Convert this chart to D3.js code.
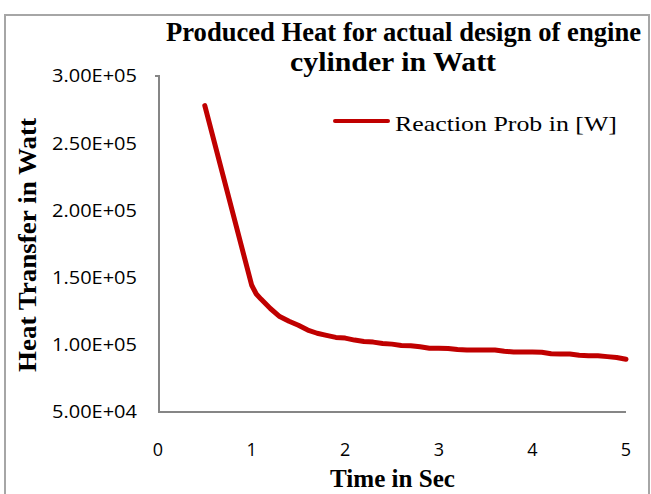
<!DOCTYPE html>
<html>
<head>
<meta charset="utf-8">
<script src="https://cdn.jsdelivr.net/npm/d3@7"></script>
<style>
  body { margin: 0; background: #fff; }
  svg { display: block; }
  .serif { font-family: "Liberation Serif", "Times New Roman", Times, serif; }
  .sans { font-family: "Open Sans", "Liberation Sans", sans-serif; }
</style>
</head>
<body>
<svg id="chart"></svg>
<script>
  // time in sec and produced heat in W
  var times = [0.5, 1.0, 1.05, 1.1, 1.2, 1.3, 1.4, 1.5, 1.6, 1.7, 1.8, 1.9, 2.0,
    2.1, 2.2, 2.3, 2.4, 2.5, 2.6, 2.7, 2.8, 2.9, 3.0, 3.1, 3.2, 3.3, 3.4, 3.5,
    3.6, 3.7, 3.8, 3.9, 4.0, 4.1, 4.2, 4.3, 4.4, 4.5, 4.6, 4.7, 4.8, 4.9, 5.0];
  var heat = [278000, 144500, 137800, 134000, 127000, 121000, 117500, 114500,
    111000, 108600, 107000, 105500, 105000, 103500, 102500, 102000, 101000,
    100500, 99500, 99300, 98500, 97500, 97400, 97300, 96500, 96100, 96100,
    96100, 96100, 95200, 94600, 94600, 94600, 94400, 93300, 93200, 93200,
    92300, 91900, 91800, 91200, 90500, 89200];
  var xTicks = [0, 1, 2, 3, 4, 5];
  var yTicks = [50000, 100000, 150000, 200000, 250000, 300000];
  var seriesName = "Reaction Prob in  [W]";

  var width = 651,
    height = 494;

  var svg = d3.select("#chart")
    .attr("width", width)
    .attr("height", height);

  // outer frame (chart box, bottom edge falls outside the shot)
  svg.append("path")
    .attr("d", "M5,500 L5,15 L649,15 L649,500")
    .attr("stroke", "#a6a6a6")
    .attr("fill", "none")
    .attr("stroke-width", "2");

  var x = d3.scaleLinear().domain([0, 5]).range([158, 626]);
  var y = d3.scaleLinear().domain([50000, 300000]).range([412, 76]);

  // axes
  svg.append("path")
    .attr("d", "M155," + y(300000) + " L159," + y(300000) + " L159," + y(50000) + " L" + x(5) + "," + y(50000))
    .attr("stroke", "#868686")
    .attr("fill", "none")
    .attr("stroke-width", "2");

  svg.append("g").selectAll("text")
    .data(yTicks)
    .enter().append("text")
    .attr("class", "sans")
    .attr("x", 52)
    .attr("y", function(d) { return y(d); })
    .attr("dy", "0.35em")
    .attr("font-size", "18px")
    .attr("textLength", 85)
    .attr("lengthAdjust", "spacingAndGlyphs")
    .attr("fill", "#000")
    .text(function(d) { return d.toExponential(2).toUpperCase().replace("E+", "E+0"); });

  svg.append("g").selectAll("text")
    .data(xTicks)
    .enter().append("text")
    .attr("class", "sans")
    .attr("x", function(d) { return x(d); })
    .attr("y", 450)
    .attr("dy", "0.35em")
    .attr("text-anchor", "middle")
    .attr("font-size", "18px")
    .attr("fill", "#000")
    .text(function(d) { return d; });

  // series line
  var line = d3.line()
    .x(function(d, i) { return x(times[i]); })
    .y(function(d) { return y(d); });

  svg.append("path")
    .datum(heat)
    .attr("d", line)
    .attr("stroke", "#c00000")
    .attr("fill", "none")
    .attr("stroke-width", "5")
    .attr("stroke-linejoin", "round")
    .attr("stroke-linecap", "round");

  // legend
  svg.append("path")
    .attr("d", "M335,121 L388,121")
    .attr("stroke", "#c00000")
    .attr("stroke-width", "4")
    .attr("stroke-linecap", "round");
  svg.append("text")
    .attr("class", "serif")
    .attr("x", 395)
    .attr("y", 131)
    .attr("font-size", "22px")
    .attr("textLength", 222)
    .attr("lengthAdjust", "spacingAndGlyphs")
    .text(seriesName);

  // titles
  svg.append("text")
    .attr("class", "serif")
    .attr("x", 166)
    .attr("y", 41)
    .attr("font-weight", "bold")
    .attr("font-size", "27px")
    .attr("textLength", 475)
    .attr("lengthAdjust", "spacingAndGlyphs")
    .text("Produced Heat for actual design of engine");
  svg.append("text")
    .attr("class", "serif")
    .attr("x", 290)
    .attr("y", 71)
    .attr("font-weight", "bold")
    .attr("font-size", "27px")
    .attr("textLength", 206)
    .attr("lengthAdjust", "spacingAndGlyphs")
    .text("cylinder in Watt");

  svg.append("text")
    .attr("class", "serif")
    .attr("x", 330)
    .attr("y", 487)
    .attr("font-weight", "bold")
    .attr("font-size", "26px")
    .attr("textLength", 125)
    .attr("lengthAdjust", "spacingAndGlyphs")
    .text("Time in Sec");

  svg.append("text")
    .attr("class", "serif")
    .attr("transform", "translate(36,372) rotate(-90)")
    .attr("font-weight", "bold")
    .attr("font-size", "26px")
    .attr("textLength", 254)
    .attr("lengthAdjust", "spacingAndGlyphs")
    .text("Heat Transfer in Watt");
</script>
</body>
</html>
